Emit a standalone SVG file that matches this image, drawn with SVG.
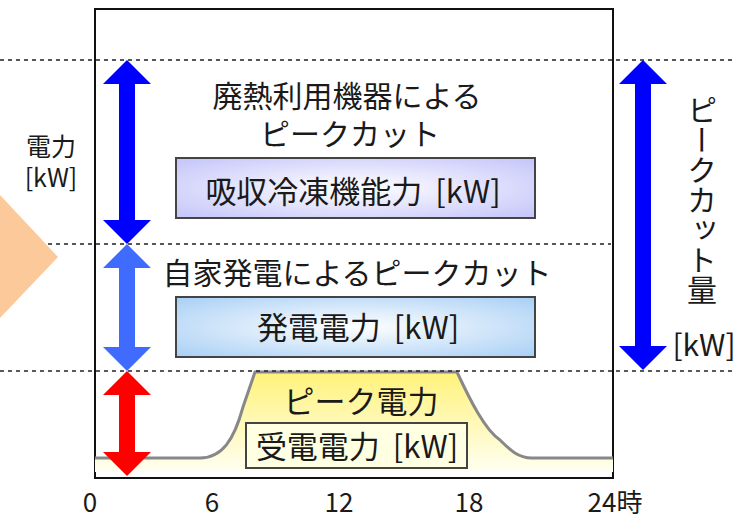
<svg xmlns="http://www.w3.org/2000/svg" width="735" height="518" viewBox="0 0 735 518">
<style>
text{font-family:"Noto Sans CJK JP","Noto Sans",sans-serif;fill:#1a1a1a;text-anchor:middle}
.t{font-size:30px}
.b{font-size:31px;word-spacing:6px}
.s{font-size:25px}
.n{font-size:26px}
.dash{stroke:#222;stroke-width:1.5;stroke-dasharray:4 4;fill:none}
.box{stroke:#444;stroke-width:2}
</style>
<defs>
<radialGradient id="gLav" cx="0.5" cy="0.5" r="0.7">
<stop offset="0" stop-color="#ffffff"/><stop offset="1" stop-color="#c4c4fa"/>
</radialGradient>
<radialGradient id="gBlue" cx="0.5" cy="0.5" r="0.7">
<stop offset="0" stop-color="#ffffff"/><stop offset="1" stop-color="#a8cff5"/>
</radialGradient>
<linearGradient id="gY" x1="0" y1="0" x2="0" y2="1">
<stop offset="0" stop-color="#fff27a"/><stop offset="1" stop-color="#fffff2"/>
</linearGradient>
</defs>
<rect width="735" height="518" fill="#ffffff"/>
<g id="frame">
<rect x="95" y="9" width="518" height="469" fill="#ffffff" stroke="#111" stroke-width="2"/>
</g>
<g id="peak">
<path d="M95,458 L200,458 C222,458 234,440 243,407 L255,372 L457,372 C470,400 485,430 500,440 C510,450 518,458 532,458 L613,458 L613,472 L95,472 Z" fill="url(#gY)"/>
<path d="M95,458 L200,458 C222,458 234,440 243,407 L255,372 L457,372 C470,400 485,430 500,440 C510,450 518,458 532,458 L613,458" fill="none" stroke="#888" stroke-width="3"/>
</g>
<g id="connectors">
<line class="dash" x1="0" y1="60" x2="735" y2="60"/>
<line class="dash" x1="0" y1="244" x2="611" y2="244"/>
<line class="dash" x1="0" y1="371" x2="735" y2="371"/>
<polygon points="127,60 151,84 135,84 135,220 151,220 127,244 103,220 119,220 119,84 103,84" fill="#0000ff"/>
<polygon points="127,244 151,268 135,268 135,347 151,347 127,371 103,347 119,347 119,268 103,268" fill="#3f6cff"/>
<polygon points="127,371 151,395 135,395 135,452 151,452 127,476 103,452 119,452 119,395 103,395" fill="#ff0000"/>
<polygon points="643,60 667,84 651,84 651,346 667,346 643,370 619,346 635,346 635,84 619,84" fill="#0000ff"/>
</g>
<g id="arrowShape">
<polygon points="0,195 58,257 0,318" fill="#fcc99b"/>
</g>
<g id="yLabel">
<text class="s"><tspan x="51" y="156">電力</tspan><tspan x="51" y="187">[kW]</tspan></text>
</g>
<g id="wasteHeat">
<text class="t"><tspan x="347" y="107">廃熱利用機器による</tspan><tspan x="350" y="145">ピークカット</tspan></text>
</g>
<g id="absorber">
<rect class="box" x="176" y="158" width="359" height="60" fill="url(#gLav)"/>
<text class="b" x="353" y="203">吸収冷凍機能力 [kW]</text>
</g>
<g id="selfGen">
<text class="t" x="357" y="284">自家発電によるピークカット</text>
</g>
<g id="genPower">
<rect class="box" x="176" y="297" width="359" height="60" fill="url(#gBlue)"/>
<text class="b" x="358" y="339">発電電力 [kW]</text>
</g>
<g id="peakPower">
<text class="b" x="361" y="413">ピーク電力</text>
<rect class="box" x="246" y="423" width="221" height="45" fill="#ffffe2"/>
<text class="b" x="357" y="458">受電電力 [kW]</text>
</g>
<g id="peakCut">
<text class="t" x="702" y="95" style="writing-mode:vertical-rl;text-anchor:start">ピークカット量</text>
<text class="t" x="704" y="356">[kW]</text>
</g>
<g id="xAxis">
<text class="n" x="90" y="512">0</text>
<text class="n" x="212" y="512">6</text>
<text class="n" x="339" y="512">12</text>
<text class="n" x="469" y="512">18</text>
<text class="n" x="615" y="512">24時</text>
</g>
</svg>
